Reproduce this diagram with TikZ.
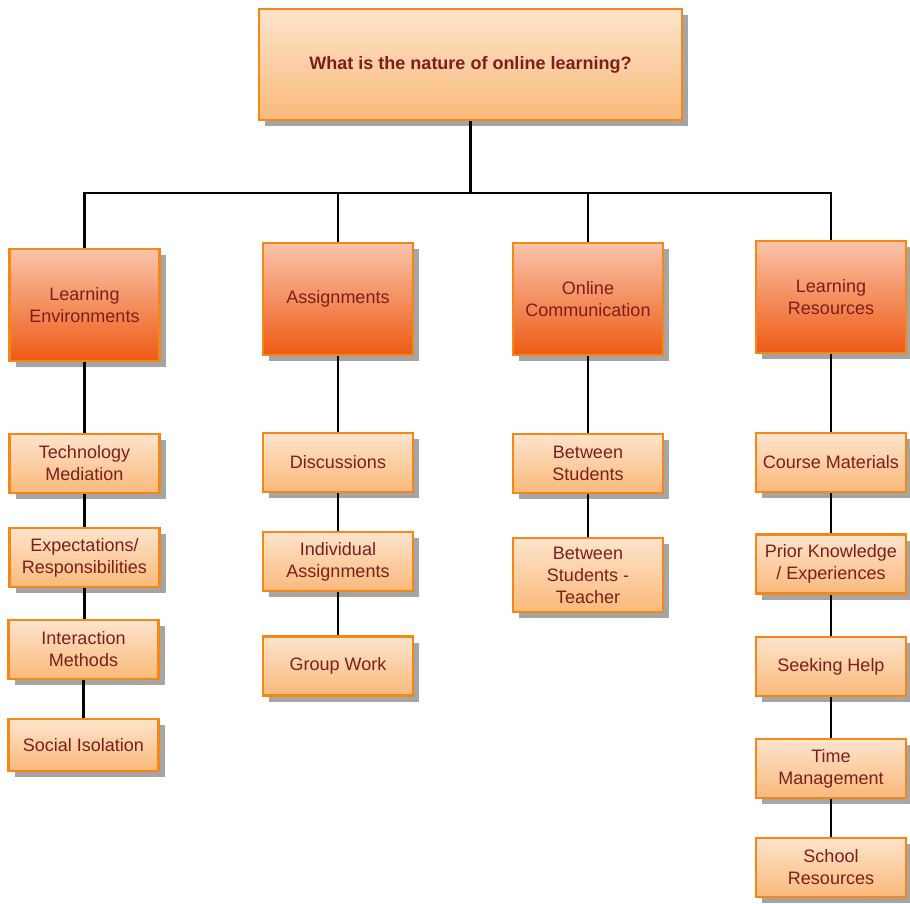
\documentclass[tikz,border=0pt]{standalone}
\usepackage{fontspec}
\setmainfont{Liberation Sans}
\usetikzlibrary{shadows}
\definecolor{bord}{RGB}{245,135,25}
\definecolor{txt}{RGB}{125,30,28}
\definecolor{lt}{RGB}{253,228,204}
\definecolor{lb}{RGB}{250,185,122}
\definecolor{mt}{RGB}{249,196,170}
\definecolor{mb}{RGB}{238,90,20}
\definecolor{shd}{RGB}{165,165,165}
\begin{document}
\begin{tikzpicture}[x=1pt,y=-1pt,
  base/.style={rectangle, draw=bord, line width=2.8pt, align=center, text=txt,
    font=\fontsize{18}{22}\selectfont, inner sep=0pt,
    drop shadow={shadow xshift=6pt, shadow yshift=-6pt, fill=shd, opacity=1}},
  topbox/.style={base, top color=lt, bottom color=lb, font=\fontsize{18}{22}\selectfont\bfseries},
  midbox/.style={base, top color=mt, bottom color=mb, minimum width=150pt, minimum height=112pt},
  leaf/.style={base, top color=lt, bottom color=lb, minimum width=150pt, minimum height=59pt},
  conn/.style={line width=2.6pt, black}]
\useasboundingbox (0,0) rectangle (910,904);
\fill[white] (0,0) rectangle (910,904);

\coordinate (bar) at (470.5,193);

\node[topbox, minimum width=423pt, minimum height=111pt] (top) at (470.5,64.5) {What is the nature of online learning?};

\node[midbox] (le) at (84.5,305) {Learning\\Environments};
\node[midbox] (as) at (338,299) {Assignments};
\node[midbox] (oc) at (588,299) {Online\\Communication};
\node[midbox] (lr) at (831,297) {Learning\\Resources};

\node[leaf] (le1) at (84.5,463.5) {Technology\\Mediation};
\node[leaf] (le2) at (84.5,557.5) {Expectations/\\Responsibilities};
\node[leaf] (le3) at (83.5,649.5) {Interaction\\Methods};
\node[leaf, minimum height=52pt] (le4) at (83.5,745) {Social Isolation};

\node[leaf] (as1) at (338,462.5) {Discussions};
\node[leaf] (as2) at (338,561.5) {Individual\\Assignments};
\node[leaf] (as3) at (338,666) {Group Work};

\node[leaf] (oc1) at (588,463.5) {Between\\Students};
\node[leaf, minimum height=74pt] (oc2) at (588,575) {Between\\Students -\\Teacher};

\node[leaf] (lr1) at (831,462.5) {Course Materials};
\node[leaf] (lr2) at (831,564) {Prior Knowledge\\/ Experiences};
\node[leaf] (lr3) at (831,666.5) {Seeking Help};
\node[leaf] (lr4) at (831,768.5) {Time\\Management};
\node[leaf] (lr5) at (831,867.5) {School\\Resources};

\draw[conn] (top.south) -- (bar);
\draw[conn] (le.north) -- (le.north |- bar) -- (lr.north |- bar) -- (lr.north);
\draw[conn] (as.north) -- (as.north |- bar);
\draw[conn] (oc.north) -- (oc.north |- bar);

\draw[conn] (le.south) -- (le1.north);
\draw[conn] (le1.south) -- (le2.north);
\draw[conn] (le2.south) -- (le2.south |- le3.north);
\draw[conn] (le3.south) -- (le4.north);

\draw[conn] (as.south) -- (as1.north);
\draw[conn] (as1.south) -- (as2.north);
\draw[conn] (as2.south) -- (as3.north);

\draw[conn] (oc.south) -- (oc1.north);
\draw[conn] (oc1.south) -- (oc2.north);

\draw[conn] (lr.south) -- (lr1.north);
\draw[conn] (lr1.south) -- (lr2.north);
\draw[conn] (lr2.south) -- (lr3.north);
\draw[conn] (lr3.south) -- (lr4.north);
\draw[conn] (lr4.south) -- (lr5.north);
\end{tikzpicture}
\end{document}
